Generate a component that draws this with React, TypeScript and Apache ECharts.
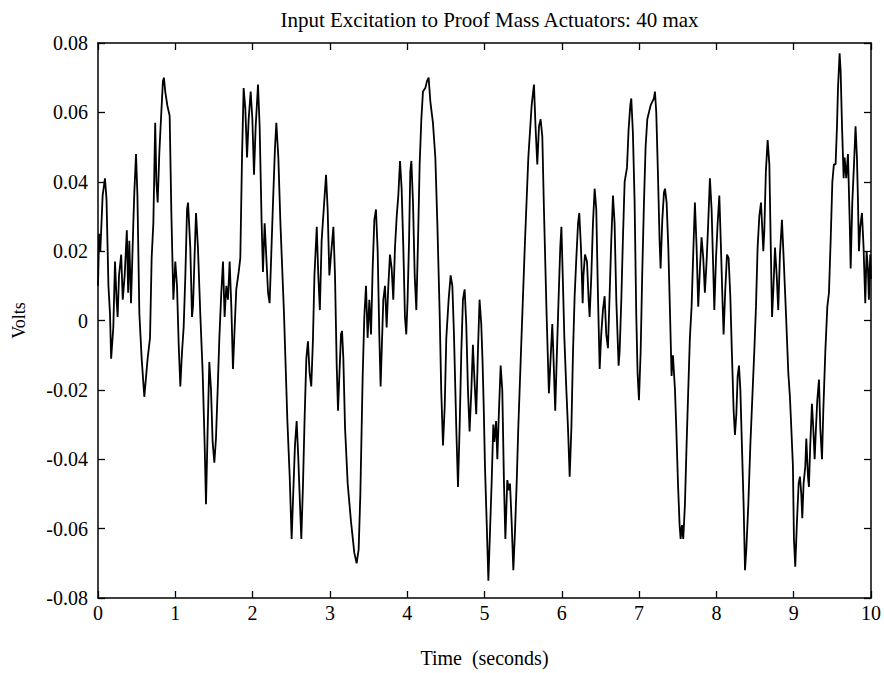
import React, { useEffect, useRef } from "react";
import * as echarts from "echarts";

const titleText = "Input Excitation to Proof Mass Actuators: 40 max";
const xAxisName = "Time  (seconds)";
const yAxisName = "Volts";
const xTicks = [0, 1, 2, 3, 4, 5, 6, 7, 8, 9, 10];
const yTicks = [-0.08, -0.06, -0.04, -0.02, 0, 0.02, 0.04, 0.06, 0.08];

const timeSec = [
  0.000, 0.015, 0.030, 0.060, 0.090, 0.110, 0.135, 0.155, 0.170, 0.198,
  0.220, 0.240, 0.254, 0.272, 0.300, 0.320, 0.345, 0.373, 0.390, 0.405,
  0.427, 0.457, 0.470, 0.492, 0.510, 0.535, 0.565, 0.599, 0.642, 0.673,
  0.694, 0.716, 0.740, 0.755, 0.772, 0.793, 0.810, 0.840, 0.853, 0.870,
  0.897, 0.927, 0.950, 0.975, 1.000, 1.022, 1.044, 1.065, 1.087, 1.108,
  1.130, 1.152, 1.165, 1.194, 1.216, 1.229, 1.250, 1.268, 1.293, 1.323,
  1.354, 1.380, 1.397, 1.419, 1.440, 1.462, 1.483, 1.505, 1.526, 1.548,
  1.570, 1.595, 1.617, 1.638, 1.660, 1.681, 1.703, 1.725, 1.746, 1.768,
  1.789, 1.820, 1.841, 1.863, 1.884, 1.906, 1.928, 1.949, 1.975, 1.997,
  2.018, 2.040, 2.070, 2.091, 2.117, 2.134, 2.156, 2.178, 2.200, 2.220,
  2.240, 2.264, 2.290, 2.307, 2.333, 2.360, 2.406, 2.450, 2.480, 2.505,
  2.527, 2.548, 2.570, 2.590, 2.613, 2.630, 2.651, 2.673, 2.695, 2.716,
  2.737, 2.759, 2.780, 2.800, 2.830, 2.850, 2.870, 2.893, 2.920, 2.950,
  2.971, 2.993, 3.015, 3.045, 3.066, 3.088, 3.105, 3.122, 3.144, 3.157,
  3.174, 3.196, 3.230, 3.273, 3.316, 3.346, 3.372, 3.394, 3.424, 3.445,
  3.467, 3.488, 3.510, 3.532, 3.553, 3.575, 3.596, 3.618, 3.639, 3.656,
  3.674, 3.691, 3.713, 3.734, 3.756, 3.777, 3.799, 3.820, 3.842, 3.864,
  3.885, 3.907, 3.928, 3.950, 3.971, 3.988, 4.005, 4.024, 4.040, 4.054,
  4.075, 4.097, 4.118, 4.140, 4.161, 4.183, 4.204, 4.234, 4.256, 4.277,
  4.300, 4.333, 4.364, 4.390, 4.420, 4.440, 4.463, 4.485, 4.506, 4.536,
  4.562, 4.584, 4.605, 4.635, 4.657, 4.678, 4.700, 4.721, 4.743, 4.764,
  4.786, 4.807, 4.830, 4.850, 4.872, 4.893, 4.915, 4.936, 4.958, 4.975,
  4.990, 5.006, 5.028, 5.050, 5.071, 5.092, 5.114, 5.127, 5.150, 5.166,
  5.187, 5.209, 5.230, 5.252, 5.270, 5.295, 5.317, 5.330, 5.351, 5.373,
  5.394, 5.416, 5.437, 5.480, 5.524, 5.567, 5.610, 5.640, 5.660, 5.683,
  5.705, 5.726, 5.748, 5.769, 5.803, 5.833, 5.855, 5.877, 5.890, 5.915,
  5.937, 5.958, 5.980, 5.995, 6.012, 6.033, 6.059, 6.080, 6.102, 6.124,
  6.145, 6.166, 6.188, 6.210, 6.226, 6.248, 6.270, 6.280, 6.300, 6.326,
  6.347, 6.360, 6.382, 6.403, 6.425, 6.446, 6.468, 6.490, 6.510, 6.532,
  6.554, 6.575, 6.597, 6.618, 6.640, 6.662, 6.683, 6.705, 6.735, 6.748,
  6.770, 6.790, 6.813, 6.843, 6.864, 6.886, 6.899, 6.920, 6.942, 6.963,
  6.980, 6.998, 7.020, 7.040, 7.063, 7.084, 7.106, 7.127, 7.149, 7.170,
  7.192, 7.205, 7.222, 7.243, 7.265, 7.278, 7.300, 7.322, 7.335, 7.356,
  7.378, 7.400, 7.420, 7.438, 7.451, 7.464, 7.481, 7.503, 7.524, 7.537,
  7.554, 7.571, 7.593, 7.614, 7.636, 7.657, 7.679, 7.700, 7.722, 7.744,
  7.765, 7.787, 7.808, 7.830, 7.851, 7.873, 7.894, 7.916, 7.938, 7.959,
  7.973, 7.995, 8.016, 8.038, 8.059, 8.080, 8.093, 8.115, 8.137, 8.158,
  8.180, 8.200, 8.223, 8.240, 8.258, 8.275, 8.292, 8.310, 8.330, 8.352,
  8.370, 8.387, 8.413, 8.439, 8.469, 8.490, 8.512, 8.533, 8.555, 8.577,
  8.590, 8.607, 8.620, 8.640, 8.663, 8.685, 8.706, 8.720, 8.737, 8.758,
  8.780, 8.800, 8.822, 8.848, 8.870, 8.900, 8.930, 8.951, 8.969, 8.990,
  9.003, 9.020, 9.042, 9.064, 9.081, 9.098, 9.111, 9.128, 9.150, 9.163,
  9.185, 9.197, 9.214, 9.236, 9.253, 9.271, 9.288, 9.305, 9.327, 9.344,
  9.366, 9.383, 9.409, 9.435, 9.456, 9.478, 9.500, 9.520, 9.542, 9.560,
  9.573, 9.594, 9.607, 9.625, 9.646, 9.659, 9.680, 9.702, 9.724, 9.737,
  9.758, 9.780, 9.800, 9.818, 9.830, 9.844, 9.861, 9.883, 9.904, 9.926,
  9.943, 9.960, 9.973, 9.990, 10.000,
];

const volts = [
  0.010, 0.025, 0.020, 0.036, 0.041, 0.035, 0.010, 0.002, -0.011, -0.002,
  0.017, 0.006, 0.001, 0.013, 0.019, 0.006, 0.013, 0.026, 0.008, 0.023,
  0.005, 0.028, 0.037, 0.048, 0.036, 0.002, -0.011, -0.022, -0.011, -0.005,
  0.018, 0.028, 0.057, 0.040, 0.034, 0.048, 0.056, 0.069, 0.070, 0.066,
  0.062, 0.059, 0.030, 0.006, 0.017, 0.010, -0.007, -0.019, -0.009, -0.002,
  0.013, 0.032, 0.034, 0.021, 0.001, 0.004, 0.019, 0.031, 0.021, 0.002,
  -0.015, -0.036, -0.053, -0.031, -0.012, -0.020, -0.035, -0.041, -0.034, -0.020,
  -0.005, 0.008, 0.017, 0.001, 0.010, 0.006, 0.017, 0.004, -0.014, -0.002,
  0.009, 0.014, 0.018, 0.047, 0.067, 0.061, 0.047, 0.058, 0.066, 0.058,
  0.042, 0.056, 0.068, 0.056, 0.028, 0.014, 0.028, 0.018, 0.008, 0.005,
  0.018, 0.034, 0.050, 0.057, 0.047, 0.028, 0.002, -0.029, -0.045, -0.063,
  -0.049, -0.036, -0.029, -0.039, -0.053, -0.063, -0.048, -0.028, -0.011, -0.006,
  -0.015, -0.019, -0.006, 0.013, 0.027, 0.013, 0.003, 0.023, 0.032, 0.042,
  0.032, 0.013, 0.019, 0.027, 0.013, -0.013, -0.026, -0.016, -0.004, -0.003,
  -0.011, -0.031, -0.047, -0.058, -0.067, -0.070, -0.066, -0.050, -0.016, 0.001,
  0.010, -0.005, 0.006, -0.004, 0.015, 0.029, 0.032, 0.020, -0.004, -0.019,
  -0.006, 0.006, 0.010, -0.002, 0.010, 0.019, 0.015, 0.006, 0.021, 0.030,
  0.036, 0.046, 0.038, 0.021, 0.001, -0.004, 0.006, 0.023, 0.043, 0.046,
  0.034, 0.013, 0.003, 0.023, 0.045, 0.058, 0.066, 0.067, 0.069, 0.070,
  0.063, 0.057, 0.047, 0.028, 0.002, -0.020, -0.036, -0.025, -0.005, 0.006,
  0.013, 0.010, -0.004, -0.031, -0.048, -0.031, -0.009, 0.006, 0.009, -0.001,
  -0.020, -0.032, -0.020, -0.007, -0.018, -0.027, -0.009, 0.006, -0.001, -0.012,
  -0.025, -0.042, -0.058, -0.075, -0.061, -0.047, -0.030, -0.035, -0.029, -0.040,
  -0.026, -0.013, -0.020, -0.047, -0.063, -0.046, -0.049, -0.047, -0.058, -0.072,
  -0.061, -0.047, -0.031, -0.004, 0.023, 0.047, 0.062, 0.068, 0.056, 0.045,
  0.056, 0.058, 0.053, 0.032, 0.002, -0.021, -0.011, -0.001, -0.009, -0.026,
  -0.009, 0.006, 0.021, 0.027, 0.013, -0.005, -0.020, -0.031, -0.045, -0.031,
  -0.009, 0.007, 0.018, 0.028, 0.031, 0.021, 0.005, 0.013, 0.019, 0.017,
  0.006, 0.001, 0.013, 0.028, 0.038, 0.032, 0.007, -0.014, -0.004, 0.003,
  0.007, -0.004, -0.008, 0.007, 0.023, 0.036, 0.028, 0.006, -0.013, -0.009,
  0.006, 0.023, 0.040, 0.044, 0.055, 0.062, 0.064, 0.054, 0.034, 0.002,
  -0.015, -0.023, -0.009, 0.013, 0.034, 0.050, 0.058, 0.060, 0.062, 0.063,
  0.064, 0.066, 0.060, 0.043, 0.023, 0.015, 0.029, 0.037, 0.038, 0.034,
  0.021, 0.002, -0.016, -0.010, -0.015, -0.020, -0.031, -0.047, -0.059, -0.063,
  -0.059, -0.063, -0.053, -0.036, -0.020, -0.005, 0.004, 0.019, 0.034, 0.021,
  0.004, 0.015, 0.024, 0.018, 0.008, 0.017, 0.028, 0.041, 0.032, 0.015,
  0.003, 0.018, 0.028, 0.036, 0.021, 0.005, -0.004, 0.009, 0.019, 0.018,
  0.007, -0.009, -0.026, -0.033, -0.027, -0.016, -0.013, -0.020, -0.036, -0.053,
  -0.072, -0.066, -0.053, -0.036, -0.020, -0.009, 0.004, 0.021, 0.030, 0.034,
  0.028, 0.020, 0.026, 0.043, 0.052, 0.045, 0.018, 0.001, 0.009, 0.021,
  0.013, 0.003, 0.019, 0.029, 0.018, 0.002, -0.015, -0.022, -0.031, -0.042,
  -0.063, -0.071, -0.058, -0.047, -0.045, -0.050, -0.057, -0.047, -0.042, -0.034,
  -0.045, -0.048, -0.036, -0.024, -0.031, -0.040, -0.031, -0.023, -0.017, -0.031,
  -0.040, -0.026, -0.009, 0.004, 0.008, 0.023, 0.040, 0.045, 0.045, 0.056,
  0.067, 0.077, 0.072, 0.056, 0.041, 0.047, 0.041, 0.048, 0.029, 0.015,
  0.034, 0.045, 0.056, 0.047, 0.036, 0.020, 0.027, 0.031, 0.021, 0.005,
  0.020, 0.015, 0.006, 0.019, 0.012,
];

const FONT = "'Liberation Serif', 'Times New Roman', serif";

export default function App() {
  const ref = useRef<HTMLDivElement>(null);

  useEffect(() => {
    if (!ref.current) return;
    const chart = echarts.init(ref.current, undefined, { renderer: "svg" });
    const data = timeSec.map((t, i) => [t, volts[i]]);
    const fmtY = (v: number) => {
      const r = Math.round(v * 100) / 100;
      return r === 0 ? "0" : r.toFixed(2);
    };
    const axisLine = { show: true, onZero: false, lineStyle: { color: "#000", width: 1.5 } };
    const axisTick = { show: true, inside: true, length: 7, lineStyle: { color: "#000", width: 1.3 } };
    const xMin = xTicks[0];
    const xMax = xTicks[xTicks.length - 1];
    const yMin = yTicks[0];
    const yMax = yTicks[yTicks.length - 1];
    const gridLeft = 98;
    const gridRight = 13;

    chart.setOption({
      animation: false,
      backgroundColor: "#fff",
      title: {
        text: titleText,
        left: gridLeft + (884 - gridLeft - gridRight) / 2,
        textAlign: "center",
        top: 4,
        textStyle: { fontFamily: FONT, fontSize: 21, fontWeight: "normal", color: "#000" },
      },
      grid: { left: gridLeft, right: gridRight, top: 43, bottom: 71 },
      xAxis: [
        {
          type: "value",
          min: xMin,
          max: xMax,
          interval: 1,
          name: xAxisName,
          nameLocation: "middle",
          nameGap: 50,
          nameTextStyle: { fontFamily: FONT, fontSize: 20, color: "#000" },
          axisLine,
          axisTick,
          axisLabel: { color: "#000", fontFamily: FONT, fontSize: 20, margin: 5 },
          splitLine: { show: false },
        },
        {
          type: "value",
          position: "top",
          min: xMin,
          max: xMax,
          interval: 1,
          axisLine,
          axisTick,
          axisLabel: { show: false },
          splitLine: { show: false },
        },
      ],
      yAxis: [
        {
          type: "value",
          min: yMin,
          max: yMax,
          interval: 0.02,
          name: yAxisName,
          nameLocation: "middle",
          nameGap: 70,
          nameRotate: 90,
          nameTextStyle: { fontFamily: FONT, fontSize: 18, color: "#000" },
          axisLine,
          axisTick,
          axisLabel: { color: "#000", fontFamily: FONT, fontSize: 20, margin: 10, formatter: fmtY },
          splitLine: { show: false },
        },
        {
          type: "value",
          position: "right",
          min: yMin,
          max: yMax,
          interval: 0.02,
          axisLine,
          axisTick,
          axisLabel: { show: false },
          splitLine: { show: false },
        },
      ],
      series: [
        {
          type: "line",
          data,
          xAxisIndex: 0,
          yAxisIndex: 0,
          symbol: "none",
          showSymbol: false,
          lineStyle: { color: "#000", width: 1.8 },
        },
      ],
    });

    return () => chart.dispose();
  }, []);

  return (
    <div
      ref={ref}
      style={{ position: "absolute", left: 0, top: 0, width: 884, height: 673, background: "#fff" }}
    />
  );
}
